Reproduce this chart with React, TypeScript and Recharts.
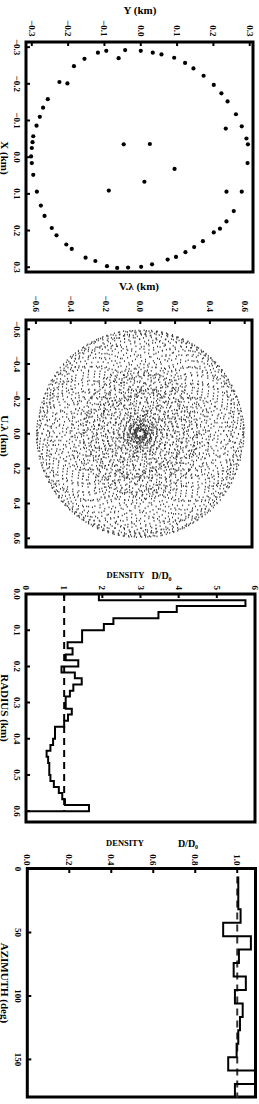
import React from 'react';
import { ScatterChart, Scatter, LineChart, Line, XAxis, YAxis, ReferenceLine } from 'recharts';

// The figure is drawn in its original landscape form (1104 x 259) and then
// turned 90 degrees clockwise to fit the portrait page.
const W = 1104;
const H = 259;
const YW = 42; // room for left tick labels + title
const RW = 4;
const FONT = '"Liberation Serif", "DejaVu Serif", serif';

// ---- panel 1: antenna positions (km) ----
const antX = [
  -0.29, -0.285, -0.292, -0.29, -0.285, -0.28, -0.27, -0.271, -0.268, -0.257,
  -0.242, -0.248, -0.222, -0.205, -0.201, -0.197, -0.158, -0.174, -0.152, -0.135,
  -0.117, -0.11, -0.084, -0.078, -0.086, -0.057, -0.051, -0.041, -0.035, -0.025,
  -0.035, -0.036, -0.002, 0.016, 0.016, 0.032, 0.048, 0.067, 0.091, 0.094,
  0.094, 0.094, 0.132, 0.147, 0.16, 0.175, 0.193, 0.195, 0.205, 0.213,
  0.229, 0.238, 0.25, 0.245, 0.259, 0.274, 0.283, 0.272, 0.279, 0.297,
  0.302, 0.301, 0.299, 0.292,
];
const antY = [
  -0.095, -0.118, -0.043, 0.0, 0.033, 0.057, -0.061, 0.092, -0.155, 0.122,
  0.145, -0.184, 0.173, -0.224, -0.202, 0.201, -0.256, 0.222, 0.239, -0.269,
  0.262, -0.278, 0.278, 0.234, -0.287, -0.296, 0.291, -0.298, 0.295, -0.3,
  -0.047, 0.025, -0.302, -0.3, 0.294, 0.093, -0.296, 0.01, -0.088, -0.286,
  0.236, 0.278, -0.275, 0.256, -0.265, 0.236, -0.245, 0.218, 0.201, -0.232,
  0.171, -0.205, -0.19, 0.147, 0.123, -0.152, -0.125, 0.097, 0.074, -0.093,
  -0.065, -0.035, 0.001, 0.031,
];
const posTicks = [-0.3, -0.2, -0.1, 0, 0.1, 0.2, 0.3];

// ---- panel 2: uv plane ticks (points are the baselines between antennas) ----
const uvTicks = [-0.6, -0.4, -0.2, 0, 0.2, 0.4, 0.6];

// ---- panel 3: radial density histogram ----
const radEdges = [
  0, 0.017, 0.033, 0.05, 0.067, 0.083, 0.1, 0.117, 0.133, 0.15,
  0.167, 0.183, 0.2, 0.217, 0.233, 0.25, 0.267, 0.283, 0.3, 0.317,
  0.333, 0.35, 0.367, 0.383, 0.4, 0.417, 0.433, 0.45, 0.467, 0.483,
  0.5, 0.517, 0.533, 0.55, 0.567, 0.583, 0.6,
];
const radDensity = [
  1.91, 5.75, 3.95, 3.47, 2.29, 2.04, 1.47, 1.47, 1.09, 1.22,
  1.04, 1.37, 0.93, 1.28, 1.46, 1.24, 1.15, 1.04, 1.04, 1.2,
  1.1, 1.0, 0.76, 0.76, 0.71, 0.64, 0.54, 0.58, 0.61, 0.61,
  0.64, 0.73, 0.86, 0.95, 1.02, 1.65, 0,
];
const radTicks = [0, 0.1, 0.2, 0.3, 0.4, 0.5, 0.6];
const densTicks = [0, 1, 2, 3, 4, 5, 6];

// ---- panel 4: azimuthal density histogram ----
const azEdges = [
  6, 10.6, 21.2, 31.8, 42.4, 52.9, 63.5, 74.1, 84.7, 95.3,
  105.9, 116.5, 127.1, 137.6, 148.2, 158.8, 169.4, 180,
];
const azDensity = [
  1.005, 1.005, 1.005, 1.016, 0.933, 1.065, 1.008, 0.983, 1.041, 0.989,
  1.026, 1.013, 1.005, 0.997, 0.957, 1.087, 0.989, 0.989,
];
const azTicks = [0, 50, 100, 150];
const azDensTicks = [0, 0.2, 0.4, 0.6, 0.8, 1.0];

const antData = antX.map((x, i) => ({ x, y: antY[i] }));
const uvData: { x: number; y: number }[] = [];
antX.forEach((xi, i) =>
  antX.forEach((xj, j) => {
    if (i !== j) uvData.push({ x: xi - xj, y: antY[i] - antY[j] });
  })
);
const radData = radEdges.map((x, i) => ({ x, y: radDensity[i] }));
const azData = azEdges.map((x, i) => ({ x, y: azDensity[i] }));

const fmt1 = (v: number) => (v < 0 ? '\u2212' : '') + Math.abs(v).toFixed(1);
const fmt0 = (v: number) => String(v);

type Box = { x0: number; x1: number; y0: number; y1: number };
type Spec = {
  box: Box;
  xDomain: [number, number];
  yDomain: [number, number];
  xTicks: number[];
  yTicks: number[];
  xFmt: (v: number) => string;
  yFmt: (v: number) => string;
  yGap: number;
};

const tickFont = { fontSize: 9, fontFamily: FONT, fontWeight: 700, fill: '#000' };
const TL = 4; // inward tick length
const tickStroke = { stroke: '#000', strokeWidth: 2 };

// tick renderers: axis line sits at the tick anchor because tickSize = tickMargin = 0
const bottomTick = (fmt: (v: number) => string) => (p: any) => (
  <g>
    <line x1={p.x} x2={p.x} y1={p.y} y2={p.y - TL} {...tickStroke} />
    <text x={p.x} y={p.y + 12.5} textAnchor="middle" {...tickFont}>{fmt(p.payload.value)}</text>
  </g>
);
const leftTick = (fmt: (v: number) => string, gap: number) => (p: any) => (
  <g>
    <line x1={p.x} x2={p.x + TL} y1={p.y} y2={p.y} {...tickStroke} />
    <text x={p.x - gap} y={p.y} textAnchor="end" dominantBaseline="central" {...tickFont}>{fmt(p.payload.value)}</text>
  </g>
);
const topTick = (p: any) => <line x1={p.x} x2={p.x} y1={p.y} y2={p.y + TL} {...tickStroke} />;
const rightTick = (p: any) => <line x1={p.x} x2={p.x - TL} y1={p.y} y2={p.y} {...tickStroke} />;

function axisSet(s: Spec) {
  return [
    <XAxis key="xb" type="number" dataKey="x" domain={s.xDomain} ticks={s.xTicks} interval={0}
      allowDataOverflow height={H - s.box.y1} tickSize={0} tickMargin={0} axisLine={false} tickLine={false}
      tick={bottomTick(s.xFmt)} />,
    <XAxis key="xt" xAxisId="t" orientation="top" type="number" domain={s.xDomain} ticks={s.xTicks}
      interval={0} allowDataOverflow height={0} tickSize={0} tickMargin={0} axisLine={false} tickLine={false}
      tick={topTick} />,
    <YAxis key="yl" type="number" dataKey="y" domain={s.yDomain} ticks={s.yTicks} interval={0}
      allowDataOverflow width={YW} tickSize={0} tickMargin={0} axisLine={false} tickLine={false}
      tick={leftTick(s.yFmt, s.yGap)} />,
    <YAxis key="yr" yAxisId="r" orientation="right" type="number" domain={s.yDomain} ticks={s.yTicks}
      interval={0} allowDataOverflow width={0} tickSize={0} tickMargin={0} axisLine={false} tickLine={false}
      tick={rightTick} />,
  ];
}

const size = (s: Spec) => ({
  width: s.box.x1 - s.box.x0 + YW + RW,
  height: H,
  margin: { top: s.box.y0, right: RW, bottom: 0, left: 0 },
});
const place = (s: Spec): React.CSSProperties => ({ position: 'absolute', left: s.box.x0 - YW, top: 0 });

const p1: Spec = {
  box: { x0: 42, x1: 272, y0: 6, y1: 233 },
  xDomain: [-0.314, 0.313], yDomain: [-0.316, 0.309],
  xTicks: posTicks, yTicks: posTicks, xFmt: fmt1, yFmt: fmt1, yGap: 5.6,
};
const p2: Spec = {
  box: { x0: 320, x1: 547, y0: 7, y1: 233 },
  xDomain: [-0.653, 0.65], yDomain: [-0.657, 0.642],
  xTicks: uvTicks, yTicks: uvTicks, xFmt: fmt1, yFmt: fmt1, yGap: 8,
};
const p3: Spec = {
  box: { x0: 594, x1: 822, y0: 4, y1: 233 },
  xDomain: [0, 0.63], yDomain: [0, 6],
  xTicks: radTicks, yTicks: densTicks, xFmt: fmt1, yFmt: fmt0, yGap: 4,
};
const p4: Spec = {
  box: { x0: 868.5, x1: 1097, y0: 3.5, y1: 231.7 },
  xDomain: [0, 180], yDomain: [0, 1.087],
  xTicks: azTicks, yTicks: azDensTicks, xFmt: fmt0, yFmt: fmt1, yGap: 3.5,
};

function VTitle({ x, y, text, size = 11 }: { x: number; y: number; text: string; size?: number }) {
  return (
    <text x={x} y={y} transform={`rotate(-90 ${x} ${y})`} textAnchor="middle" dominantBaseline="central"
      fontFamily={FONT} fontWeight={700} fontSize={size} fill="#000">
      {text}
    </text>
  );
}
function HTitle({ x, y, text }: { x: number; y: number; text: string }) {
  return (
    <text x={x} y={y} textAnchor="middle" dominantBaseline="central" fontFamily={FONT} fontWeight={700} fontSize={11} fill="#000">
      {text}
    </text>
  );
}
function FrameBox({ s }: { s: Spec }) {
  const b = s.box;
  return (
    <path d={`M${b.x0} ${b.y0}H${b.x1}V${b.y1}H${b.x0}Z`} fill="none" stroke="#000" strokeWidth={3} />
  );
}

export default function App() {
  return (
    <div
      style={{
        position: 'absolute', left: 0, top: 0, width: W, height: H, background: '#fff',
        transformOrigin: '0 0', transform: `translate(${H}px, 0px) rotate(90deg)`,
      }}
    >
      <svg width={W} height={H} style={{ position: 'absolute', left: 0, top: 0 }}>
        <FrameBox s={p1} />
        <FrameBox s={p2} />
        <FrameBox s={p3} />
        <FrameBox s={p4} />
        <VTitle x={10} y={119} text="Y (km)" />
        <HTitle x={158} y={254} text="X (km)" />
        <VTitle x={286} y={120} text="V.λ (km)" />
        <HTitle x={436} y={254} text="U.λ (km)" />
        <VTitle x={575} y={133.5} text="DENSITY" size={8.5} />
        <VTitle x={575} y={97.5} text="D/D₀" size={10} />
        <HTitle x={708} y={254} text="RADIUS (km)" />
        <VTitle x={843} y={134} text="DENSITY" size={8.5} />
        <VTitle x={843} y={71} text="D/D₀" size={10} />
        <HTitle x={983} y={254} text="AZIMUTH (deg)" />
      </svg>
      <div style={place(p1)}>
        <ScatterChart {...size(p1)}>
          {axisSet(p1)}
          <Scatter data={antData} isAnimationActive={false}
            shape={(p: any) => <circle cx={p.cx} cy={p.cy} r={2.1} fill="#000" />} />
        </ScatterChart>
      </div>
      <div style={place(p2)}>
        <ScatterChart {...size(p2)}>
          {axisSet(p2)}
          <Scatter data={uvData} isAnimationActive={false}
            shape={(p: any) => <rect x={p.cx - 0.8} y={p.cy - 0.5} width={1.6} height={1} fill="#333" />} />
        </ScatterChart>
      </div>
      <div style={place(p3)}>
        <LineChart {...size(p3)} data={radData}>
          {axisSet(p3)}
          <ReferenceLine segment={[{ x: 0, y: 1 }, { x: 0.6, y: 1 }]} stroke="#000" strokeWidth={2} strokeDasharray="7 5" />
          <Line dataKey="y" type="stepAfter" stroke="#000" strokeWidth={2} dot={false} isAnimationActive={false} />
        </LineChart>
      </div>
      <div style={place(p4)}>
        <LineChart {...size(p4)} data={azData}>
          {axisSet(p4)}
          <ReferenceLine segment={[{ x: 6, y: 1 }, { x: 180, y: 1 }]} stroke="#333" strokeWidth={2} strokeDasharray="7 5" />
          <Line dataKey="y" type="stepAfter" stroke="#000" strokeWidth={2} dot={false} isAnimationActive={false} />
        </LineChart>
      </div>
    </div>
  );
}
